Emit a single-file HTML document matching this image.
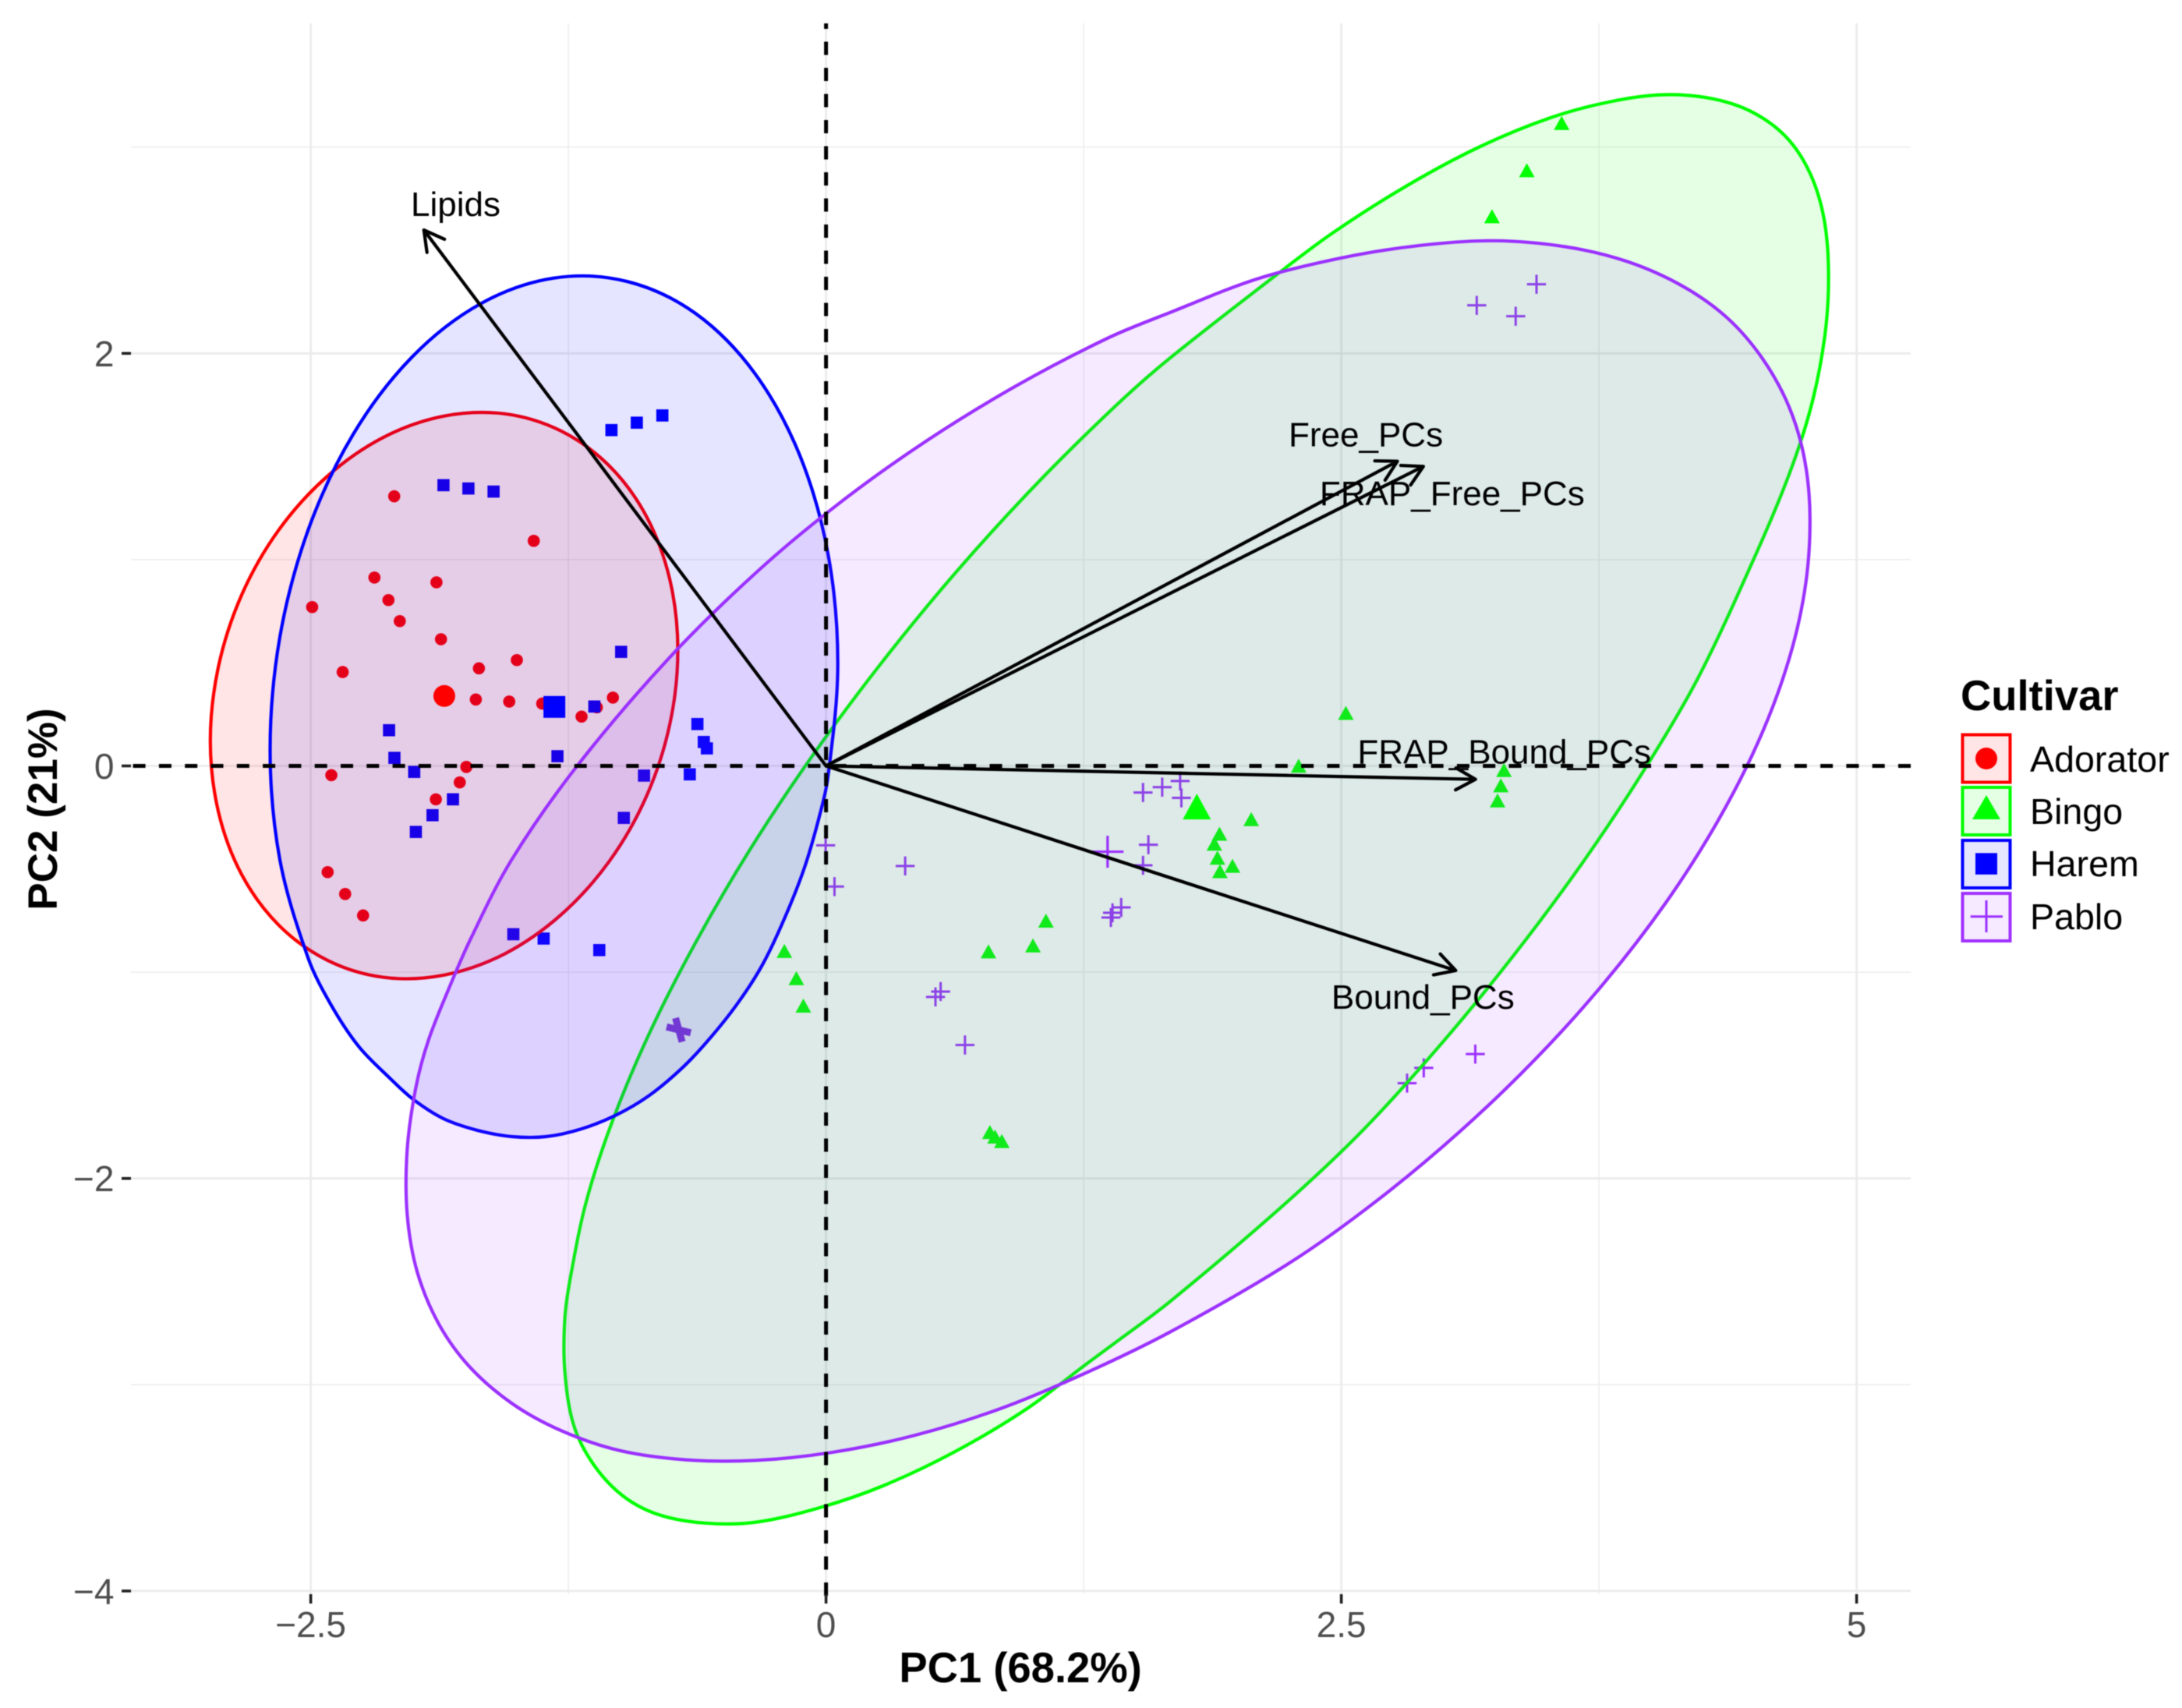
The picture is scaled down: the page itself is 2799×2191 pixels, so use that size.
<!DOCTYPE html>
<html lang="en">
<head>
<meta charset="utf-8">
<title>PCA biplot by cultivar</title>
<style>
html,body{margin:0;padding:0;background:#fff;width:2799px;height:2191px;overflow:hidden}
svg{display:block;filter:blur(0.6px)}
text{font-family:"Liberation Sans",sans-serif}
</style>
</head>
<body>
<svg id="chart" xmlns="http://www.w3.org/2000/svg" width="2799" height="2191" viewBox="0 0 2799 2191">
  <rect x="0" y="0" width="2799" height="2191" fill="#fff"/>
  <g id="grid"></g>
  <g id="points"></g>
  <g id="ellipses"></g>
  <g id="guides"></g>
  <g id="means"></g>
  <g id="arrows"></g>
  <g id="labels"></g>
  <g id="axes"></g>

  <text x="1309" y="2158" text-anchor="middle" font-size="54.4" font-weight="700" fill="#000">PC1 (68.2%)</text>
  <text transform="translate(73,1038) rotate(-90)" text-anchor="middle" font-size="53" font-weight="700" fill="#000">PC2 (21%)</text>

  <g>
    <text x="2515" y="911" font-size="54.4" font-weight="700" fill="#000">Cultivar</text>
    <g>
      <rect x="2517.5" y="942.5" width="61" height="61" fill="#ff0000" fill-opacity="0.1" stroke="#ff0000" stroke-width="4"/>
      <circle cx="2548" cy="973" r="14" fill="#ff0000"/>
      <text x="2604" y="990" font-size="46.6" fill="#000">Adorator</text>
    </g>
    <g>
      <rect x="2517.5" y="1010" width="61" height="61" fill="#00ff00" fill-opacity="0.1" stroke="#00ff00" stroke-width="4"/>
      <polygon points="2548,1020 2566,1051 2530,1051" fill="#00ff00"/>
      <text x="2604" y="1057" font-size="46.6" fill="#000">Bingo</text>
    </g>
    <g>
      <rect x="2517.5" y="1078" width="61" height="61" fill="#0000ff" fill-opacity="0.1" stroke="#0000ff" stroke-width="4"/>
      <rect x="2534" y="1094.3" width="28" height="27.5" fill="#0000ff"/>
      <text x="2604" y="1124" font-size="46.6" fill="#000">Harem</text>
    </g>
    <g>
      <rect x="2517.5" y="1146" width="61" height="61" fill="#9b30ff" fill-opacity="0.1" stroke="#a030ff" stroke-width="4"/>
      <path d="M2527.7 1175.7H2569M2548 1155V1196" stroke="#9b30ff" stroke-width="3" fill="none"/>
      <text x="2604" y="1192" font-size="46.6" fill="#000">Pablo</text>
    </g>
  </g>
</svg>
<script>
// ---- axis data ----
const xMajorTicks = [-2.5, 0, 2.5, 5];
const xTickLabels = ['\u22122.5', '0', '2.5', '5'];
const xMinorTicks = [-1.25, 1.25, 3.75];
const yMajorTicks = [-4, -2, 0, 2];
const yTickLabels = ['\u22124', '\u22122', '0', '2'];
const yMinorTicks = [-3, -1, 1, 3];

// ---- sample scores ----
const adoratorX = [-2.095,-1.418,-2.191,-1.890,-2.493,-2.123,-2.068,-1.868,-1.500,-1.684,-2.345,-1.699,-1.537,-1.377,-1.034,-1.186,-1.112,-1.745,-2.400,-1.777,-1.893,-2.418,-2.333,-2.246];
const adoratorY = [1.307,1.091,0.913,0.890,0.770,0.804,0.702,0.614,0.513,0.473,0.455,0.322,0.312,0.302,0.331,0.239,0.284,-0.005,-0.045,-0.080,-0.162,-0.515,-0.621,-0.725];
const haremX = [-1.041,-0.918,-0.794,-1.856,-1.735,-1.613,-0.994,-1.124,-2.120,-0.624,-0.593,-0.578,-2.094,-1.303,-1.998,-0.883,-0.661,-1.810,-1.909,-1.990,-0.981,-1.517,-1.370,-1.100];
const haremY = [1.628,1.664,1.699,1.361,1.345,1.330,0.553,0.288,0.173,0.203,0.116,0.085,0.039,0.047,-0.029,-0.047,-0.041,-0.162,-0.239,-0.320,-0.252,-0.816,-0.837,-0.893];
const bingoX = [2.522,2.293,2.063,1.909,1.884,1.899,1.972,1.911,1.067,1.004,0.788,-0.202,-0.144,-0.110,0.795,0.820,0.853,3.289,3.274,3.258,3.569,3.400,3.231];
const bingoY = [0.257,0.001,-0.258,-0.329,-0.377,-0.445,-0.484,-0.510,-0.750,-0.870,-0.899,-0.897,-1.029,-1.162,-1.775,-1.797,-1.819,-0.020,-0.094,-0.167,3.117,2.888,2.665];
const pabloX = [1.538,1.631,1.718,1.724,1.564,1.538,1.432,1.390,1.382,-0.002,0.041,0.384,0.556,0.531,0.674,3.157,3.346,3.447,3.150,2.900,2.819];
const pabloY = [-0.129,-0.103,-0.073,-0.155,-0.382,-0.482,-0.686,-0.712,-0.735,-0.385,-0.585,-0.485,-1.094,-1.120,-1.353,2.233,2.180,2.335,-1.397,-1.464,-1.538];
const pabloClusterX = [-0.715];
const pabloClusterY = [-1.279];

// ---- group means ----
const adoratorMeanX = -1.852, adoratorMeanY = 0.339;
const bingoMeanX = 1.799, bingoMeanY = -0.197;
const haremMeanX = -1.318, haremMeanY = 0.286;
const pabloMeanX = 1.366, pabloMeanY = -0.416;

// ---- ellipse outlines ----
const adoratorEllipseX = [-0.719,-0.758,-0.871,-1.051,-1.286,-1.559,-1.853,-2.147,-2.420,-2.655,-2.835,-2.948,-2.987,-2.948,-2.835,-2.655,-2.420,-2.147,-1.853,-1.559,-1.286,-1.051,-0.871,-0.758];
const adoratorEllipseY = [0.561,0.904,1.209,1.454,1.624,1.707,1.696,1.593,1.404,1.144,0.829,0.480,0.121,-0.222,-0.527,-0.772,-0.942,-1.025,-1.014,-0.911,-0.722,-0.462,-0.147,0.202];
const bingoEllipseX = [4.864,4.842,4.775,4.662,4.499,4.304,4.065,3.804,3.511,3.164,2.817,2.458,2.187,1.666,1.398,1.006,0.626,0.267,-0.067,-0.368,-0.631,-0.855,-1.033,-1.162,-1.238,-1.267,-1.267,-1.224,-1.127,-0.983,-0.809,-0.585,-0.336,-0.030,0.272,0.621,0.971,1.260,1.398,1.666,2.202,2.594,2.974,3.333,3.667,3.968,4.231,4.499,4.672,4.781,4.846];
const bingoEllipseY = [2.382,2.652,2.871,3.045,3.167,3.234,3.254,3.220,3.141,2.998,2.812,2.584,2.382,1.975,1.739,1.351,0.934,0.497,0.048,-0.404,-0.853,-1.292,-1.713,-2.107,-2.468,-2.677,-2.937,-3.197,-3.388,-3.541,-3.631,-3.671,-3.666,-3.596,-3.492,-3.327,-3.119,-2.902,-2.800,-2.599,-2.145,-1.777,-1.360,-0.923,-0.474,-0.022,0.427,0.998,1.412,1.749,2.086];
const haremEllipseX = [0.057,0.010,-0.128,-0.346,-0.631,-0.963,-1.320,-1.677,-2.009,-2.294,-2.512,-2.650,-2.697,-2.650,-2.512,-2.400,-2.265,-2.116,-2.001,-1.856,-1.694,-1.525,-1.357,-1.188,-1.019,-0.862,-0.705,-0.573,-0.428,-0.308,-0.203,-0.106,-0.038,0.010];
const haremEllipseY = [0.496,1.027,1.507,1.904,2.192,2.348,2.365,2.240,1.982,1.608,1.145,0.623,0.078,-0.453,-0.933,-1.161,-1.363,-1.514,-1.618,-1.710,-1.766,-1.797,-1.797,-1.760,-1.693,-1.601,-1.471,-1.332,-1.150,-0.963,-0.743,-0.497,-0.266,-0.049];
const pabloEllipseX = [4.774,4.749,4.672,4.542,4.369,4.152,3.885,3.587,3.240,2.871,2.501,2.089,1.666,1.371,0.925,0.489,0.066,-0.333,-0.766,-1.209,-1.526,-1.725,-1.830,-1.929,-1.990,-2.032,-2.032,-1.984,-1.880,-1.731,-1.525,-1.284,-1.002,-0.681,-0.343,0.030,0.428,0.846,1.236,1.666,2.253,2.676,3.075,3.446,3.780,4.073,4.321,4.519,4.662,4.747];
const pabloEllipseY = [1.184,1.479,1.741,1.977,2.175,2.328,2.446,2.517,2.546,2.522,2.463,2.360,2.197,2.076,1.844,1.577,1.275,0.943,0.518,-0.002,-0.456,-0.840,-1.080,-1.330,-1.560,-1.861,-2.173,-2.451,-2.703,-2.911,-3.090,-3.223,-3.319,-3.364,-3.367,-3.328,-3.246,-3.116,-2.954,-2.746,-2.407,-2.105,-1.773,-1.417,-1.046,-0.665,-0.277,0.108,0.484,0.843];

// ---- loadings ----
const loadingNames = ['Lipids','Free_PCs','FRAP_Free_PCs','FRAP_Bound_PCs','Bound_PCs'];
const loadingX = [-1.951,2.772,2.898,3.151,3.055];
const loadingY = [2.598,1.477,1.452,-0.065,-0.992];
const loadingLabelX = [-1.797,2.619,3.038,3.291,2.896];
const loadingLabelY = [2.667,1.549,1.264,0.011,-1.177];

// ---- scales ----
const sx = v => 1059.6 + v * 264.4;
const sy = v => 982.5 - v * 264.6;
const PANEL = {left:168, right:2451, top:30, bottom:2045};

const NS = 'http://www.w3.org/2000/svg';
function mk(tag, attrs, parent){
  const el = document.createElementNS(NS, tag);
  for (const k in attrs) el.setAttribute(k, attrs[k]);
  parent.appendChild(el);
  return el;
}
const gGrid = document.getElementById('grid');
const gPoints = document.getElementById('points');
const gEll = document.getElementById('ellipses');
const gGuides = document.getElementById('guides');
const gMeans = document.getElementById('means');
const gArrows = document.getElementById('arrows');
const gLabels = document.getElementById('labels');
const gAxes = document.getElementById('axes');

// grid
xMinorTicks.forEach(v => {
  const l = mk('line',{x1:sx(v),x2:sx(v),y1:PANEL.top,y2:PANEL.bottom,stroke:'#ebebeb','stroke-width':1.4},gGrid);
  
  
});
yMinorTicks.forEach(v => {
  const l = mk('line',{x1:PANEL.left,x2:PANEL.right,y1:sy(v),y2:sy(v),stroke:'#ebebeb','stroke-width':1.4},gGrid);
  
  
});
xMajorTicks.forEach(v => {
  const l = mk('line',{x1:sx(v),x2:sx(v),y1:PANEL.top,y2:PANEL.bottom,stroke:'#ebebeb','stroke-width':2.8},gGrid);
  
  
});
yMajorTicks.forEach(v => {
  const l = mk('line',{x1:PANEL.left,x2:PANEL.right,y1:sy(v),y2:sy(v),stroke:'#ebebeb','stroke-width':2.8},gGrid);
  
  
});

// marker drawers
function triPoints(cx, cy, base, h){
  return (cx)+','+(cy-h/2)+' '+(cx+base/2)+','+(cy+h/2)+' '+(cx-base/2)+','+(cy+h/2);
}
function plusPath(cx, cy, arm){
  return 'M'+(cx-arm)+' '+cy+'H'+(cx+arm)+'M'+cx+' '+(cy-arm)+'V'+(cy+arm);
}

// sample points
adoratorX.forEach((v,i) => {
  const c = mk('circle',{cx:sx(v),cy:sy(adoratorY[i]),r:7.8,fill:'#ff0000'},gPoints);
  
  
});
bingoX.forEach((v,i) => {
  const t = mk('polygon',{points:triPoints(sx(v),sy(bingoY[i]),20,18),fill:'#00ff00'},gPoints);
  
  
});
haremX.forEach((v,i) => {
  const r = mk('rect',{x:sx(v)-7.8,y:sy(haremY[i])-7.8,width:15.6,height:15.6,fill:'#0000ff'},gPoints);
  
  
});
pabloX.forEach((v,i) => {
  const p = mk('path',{d:plusPath(sx(v),sy(pabloY[i]),12.2),stroke:'#9b30ff','stroke-width':3,fill:'none'},gPoints);
  
  
});
pabloClusterX.forEach((v,i) => {
  const px = sx(v), py = sy(pabloClusterY[i]);
  const d = 'M'+(px-4)+' '+(py-15)+'L'+(px+4.5)+' '+(py+15.5)+'M'+(px-15.5)+' '+(py-3.7)+'L'+(px+15.5)+' '+(py+4);
  const p = mk('path',{d:d,stroke:'#8a2be2','stroke-width':9,fill:'none'},gPoints);
  
  
});

// ellipses: tangents scaled by local segment length, so uneven vertex spacing does not kink
function smoothClosed(xs, ys){
  const n = xs.length;
  const X = xs.map(sx), Y = ys.map(sy);
  function tangent(i){
    const a=(i-1+n)%n, c=(i+1)%n;
    const tx=X[c]-X[a], ty=Y[c]-Y[a], m=Math.hypot(tx,ty)||1;
    return [tx/m, ty/m];
  }
  let d = 'M'+X[0].toFixed(1)+' '+Y[0].toFixed(1);
  for (let i=0;i<n;i++){
    const c=(i+1)%n;
    const len=Math.hypot(X[c]-X[i],Y[c]-Y[i]);
    const t1=tangent(i), t2=tangent(c);
    const c1x=X[i]+t1[0]*len/3, c1y=Y[i]+t1[1]*len/3;
    const c2x=X[c]-t2[0]*len/3, c2y=Y[c]-t2[1]*len/3;
    d+='C'+c1x.toFixed(1)+' '+c1y.toFixed(1)+' '+c2x.toFixed(1)+' '+c2y.toFixed(1)+' '+X[c].toFixed(1)+' '+Y[c].toFixed(1);
  }
  return d+'Z';
}
const e1 = mk('path',{d:smoothClosed(adoratorEllipseX,adoratorEllipseY),fill:'#ff0000','fill-opacity':0.1,stroke:'#ff0000','stroke-width':4.2},gEll);


const e2 = mk('path',{d:smoothClosed(bingoEllipseX,bingoEllipseY),fill:'#00ff00','fill-opacity':0.1,stroke:'#00ff00','stroke-width':4.2},gEll);


const e3 = mk('path',{d:smoothClosed(haremEllipseX,haremEllipseY),fill:'#0000ff','fill-opacity':0.1,stroke:'#0000ff','stroke-width':4.2},gEll);


const e4 = mk('path',{d:smoothClosed(pabloEllipseX,pabloEllipseY),fill:'#9b30ff','fill-opacity':0.1,stroke:'#9b30ff','stroke-width':4.2},gEll);



// zero guides
const gh = mk('line',{x1:PANEL.right,x2:PANEL.left,y1:sy(0),y2:sy(0),stroke:'#000','stroke-width':5,'stroke-dasharray':'16 17.3'},gGuides);


const gv = mk('line',{x1:sx(0),x2:sx(0),y1:2047,y2:PANEL.top,stroke:'#000','stroke-width':5,'stroke-dasharray':'17 16.5'},gGuides);



// group means
const m1 = mk('circle',{cx:sx(adoratorMeanX),cy:sy(adoratorMeanY),r:14,fill:'#ff0000'},gMeans);


const m2 = mk('polygon',{points:triPoints(sx(bingoMeanX),sy(bingoMeanY),36,33),fill:'#00ff00'},gMeans);


const m3 = mk('rect',{x:sx(haremMeanX)-14,y:sy(haremMeanY)-14,width:28,height:28,fill:'#0000ff'},gMeans);


const m4 = mk('path',{d:plusPath(sx(pabloMeanX),sy(pabloMeanY),20.5),stroke:'#9b30ff','stroke-width':3.2,fill:'none'},gMeans);



// arrows
loadingX.forEach((v,i) => {
  const x0=sx(0), y0=sy(0), x1=sx(v), y1=sy(loadingY[i]);
  const ang=Math.atan2(y1-y0,x1-x0), len=29, spread=Math.PI/6.2;
  const ax=x1-len*Math.cos(ang-spread), ay=y1-len*Math.sin(ang-spread);
  const bx=x1-len*Math.cos(ang+spread), by=y1-len*Math.sin(ang+spread);
  const d='M'+x0+' '+y0+'L'+x1+' '+y1+'M'+ax+' '+ay+'L'+x1+' '+y1+'L'+bx+' '+by;
  const a = mk('path',{d:d,stroke:'#000','stroke-width':4.2,fill:'none','stroke-linecap':'round','stroke-linejoin':'round'},gArrows);
  
  
});
loadingNames.forEach((name,i) => {
  const t = mk('text',{x:sx(loadingLabelX[i]),y:sy(loadingLabelY[i]),'text-anchor':'middle','font-size':44,fill:'#000'},gLabels);
  t.textContent = name;
  
  
});

// axis ticks and labels
xMajorTicks.forEach((v,i) => {
  const l = mk('line',{x1:sx(v),x2:sx(v),y1:PANEL.bottom,y2:2057,stroke:'#222','stroke-width':3.6},gAxes);
  
  
  const t = mk('text',{x:sx(v),y:2100,'text-anchor':'middle','font-size':46,fill:'#4d4d4d'},gAxes);
  t.textContent = xTickLabels[i];
  
  
});
yMajorTicks.forEach((v,i) => {
  const l = mk('line',{x1:156,x2:PANEL.left,y1:sy(v),y2:sy(v),stroke:'#222','stroke-width':3.6},gAxes);
  
  
  const t = mk('text',{x:146.5,y:sy(v)+16.5,'text-anchor':'end','font-size':46,fill:'#4d4d4d'},gAxes);
  t.textContent = yTickLabels[i];
  
  
});
</script>
</body>
</html>
